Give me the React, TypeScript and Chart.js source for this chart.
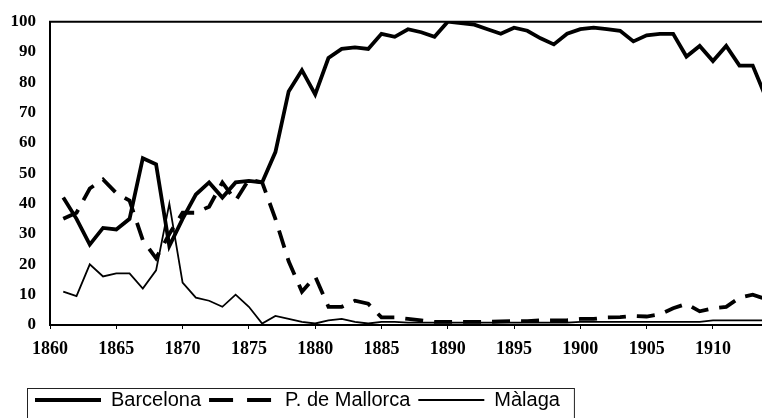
import React, { useEffect, useRef } from 'react';
import { Chart, registerables } from 'chart.js';

Chart.register(...registerables);

const years = [
  1861, 1862, 1863, 1864, 1865, 1866, 1867, 1868, 1869, 1870,
  1871, 1872, 1873, 1874, 1875, 1876, 1877, 1878, 1879, 1880,
  1881, 1882, 1883, 1884, 1885, 1886, 1887, 1888, 1889, 1890,
  1891, 1892, 1893, 1894, 1895, 1896, 1897, 1898, 1899, 1900,
  1901, 1902, 1903, 1904, 1905, 1906, 1907, 1908, 1909, 1910,
  1911, 1912, 1913, 1914,
];

const barcelona = [
  42, 35, 26.5, 32, 31.5, 35, 55, 53, 26, 35,
  43, 47, 42, 47, 47.5, 47, 57, 77, 84, 76,
  88, 91, 91.5, 91, 96, 95, 97.5, 96.5, 95, 100,
  99.5, 99, 97.5, 96, 98, 97, 94.5, 92.5, 96, 97.5,
  98, 97.5, 97, 93.5, 95.5, 96, 96, 88.5, 92, 87,
  92, 85.5, 85.5, 75,
];

const mallorca = [
  35, 37, 45, 48, 43.5, 41, 28, 22, 30, 37,
  37, 39, 47, 41, 48, 47, 35, 21, 11, 16,
  6, 6, 8, 7, 2.5, 2.5, 2, 1.5, 1, 1,
  1, 1, 1, 1.2, 1.3, 1.3, 1.5, 1.5, 1.6, 2,
  2, 2.5, 2.6, 3, 2.8, 3.5, 5.5, 7, 4.5, 5.5,
  6, 9, 10, 8.5,
];

const malaga = [
  11, 9.5, 20, 16, 17, 17, 12, 18, 40, 14,
  9, 8, 6, 10, 6, 0.5, 3, 2, 1, 0.5,
  1.5, 2, 1, 0.5, 1, 1, 0.8, 0.8, 0.8, 0.8,
  0.8, 0.8, 0.8, 0.8, 0.8, 0.8, 0.8, 0.8, 0.8, 1,
  1, 1, 1, 1, 1, 1, 1, 1, 1, 1.5,
  1.5, 1.5, 1.5, 1.5,
];

const seriesNames = ['Barcelona', 'P. de Mallorca', 'Màlaga'];
const xTickValues = [1860, 1865, 1870, 1875, 1880, 1885, 1890, 1895, 1900, 1905, 1910];
const yTickValues = [0, 10, 20, 30, 40, 50, 60, 70, 80, 90, 100];

const toPoints = (vals: number[]) => years.map((yr, i) => ({ x: yr, y: vals[i] }));

const LEGEND_LEFT = 27;
const LEGEND_SHIFT = 2;

const framePlugin = {
  id: 'frameLines',
  beforeDraw(chart: any) {
    const lg = chart.legend;
    if (lg && !lg._shifted) {
      lg.left = LEGEND_LEFT;
      lg.top += LEGEND_SHIFT;
      lg.bottom += LEGEND_SHIFT;
      lg._shifted = true;
    }
  },
  afterUpdate(chart: any) {
    if (chart.legend) chart.legend._shifted = false;
  },
  afterDraw(chart: any) {
    const { ctx, chartArea } = chart;
    ctx.save();
    ctx.strokeStyle = '#000';
    ctx.lineWidth = 2;
    ctx.beginPath();
    ctx.moveTo(chartArea.left - 1, chartArea.top);
    ctx.lineTo(chartArea.right, chartArea.top);
    ctx.stroke();
    const lg = chart.legend;
    if (lg && lg.lineWidths) {
      const pad = lg.options.labels.padding;
      const w = lg.lineWidths[0] + pad + 6;
      ctx.lineWidth = 1;
      ctx.strokeStyle = '#222';
      ctx.strokeRect(lg.left + 0.5, lg.top + pad - LEGEND_SHIFT + 0.5, w, 80);
    }
    ctx.restore();
  },
};

export default function App() {
  const ref = useRef<HTMLCanvasElement>(null);

  useEffect(() => {
    document.body.style.margin = '0';
    const canvas = ref.current;
    if (!canvas) return;
    const chart = new Chart(canvas, {
      type: 'line',
      data: {
        datasets: [
          {
            label: seriesNames[0],
            data: toPoints(barcelona),
            borderColor: '#000',
            backgroundColor: '#000',
            borderWidth: 3.8,
            pointRadius: 0,
            tension: 0,
          },
          {
            label: seriesNames[1],
            data: toPoints(mallorca),
            borderColor: '#000',
            backgroundColor: '#000',
            borderWidth: 3.8,
            borderDash: [18, 11],
            pointRadius: 0,
            tension: 0,
          },
          {
            label: seriesNames[2],
            data: toPoints(malaga),
            borderColor: '#000',
            backgroundColor: '#000',
            borderWidth: 1.8,
            pointRadius: 0,
            tension: 0,
          },
        ],
      },
      options: {
        animation: false,
        responsive: false,
        layout: { padding: { left: 0, top: 8, right: 0, bottom: 0 } },
        plugins: {
          tooltip: { enabled: false },
          legend: {
            position: 'bottom',
            align: 'start',
            labels: {
              usePointStyle: true,
              pointStyle: 'line',
              pointStyleWidth: 66,
              padding: 8,
              color: '#000',
              font: { family: '"Liberation Sans", Arial, sans-serif', size: 20 },
              generateLabels: (ch: any) => {
                const items = Chart.defaults.plugins.legend.labels.generateLabels(ch);
                return items.map((it: any) => {
                  const ds: any = ch.data.datasets[it.datasetIndex];
                  return {
                    ...it,
                    lineWidth: ds.borderWidth,
                    lineDash: ds.borderDash ? [24, 14] : [],
                    strokeStyle: ds.borderColor,
                    pointStyle: 'line',
                  };
                });
              },
            },
          },
        },
        scales: {
          x: {
            type: 'linear',
            min: 1860,
            max: 1913.7,
            afterBuildTicks: (s: any) => {
              s.ticks = xTickValues.map((v) => ({ value: v }));
            },
            afterFit: (s: any) => {
              s.height = 55;
            },
            ticks: {
              autoSkip: false,
              maxRotation: 0,
              padding: 10,
              color: '#000',
              font: { family: '"Liberation Serif", "Times New Roman", serif', size: 18, weight: 'bold' },
              callback: (v: any) => String(v),
            },
            grid: { drawOnChartArea: false, tickLength: 4, color: '#000', tickColor: '#000' },
            border: { color: '#000', width: 2 },
          },
          y: {
            min: 0,
            max: 100,
            afterBuildTicks: (s: any) => {
              s.ticks = yTickValues.map((v) => ({ value: v }));
            },
            afterFit: (s: any) => {
              s.width = 50;
            },
            ticks: {
              padding: 14,
              color: '#000',
              font: { family: '"Liberation Serif", "Times New Roman", serif', size: 17, weight: 'bold', lineHeight: 0.9 },
              callback: (v: any) => String(v),
            },
            grid: { drawOnChartArea: false, drawTicks: false },
            border: { color: '#000', width: 2 },
          },
        },
      },
      plugins: [framePlugin],
    } as any);
    return () => chart.destroy();
  }, []);

  return (
    <div style={{ width: 762, height: 418 }}>
      <canvas ref={ref} width={762} height={418} style={{ display: 'block' }} />
    </div>
  );
}
